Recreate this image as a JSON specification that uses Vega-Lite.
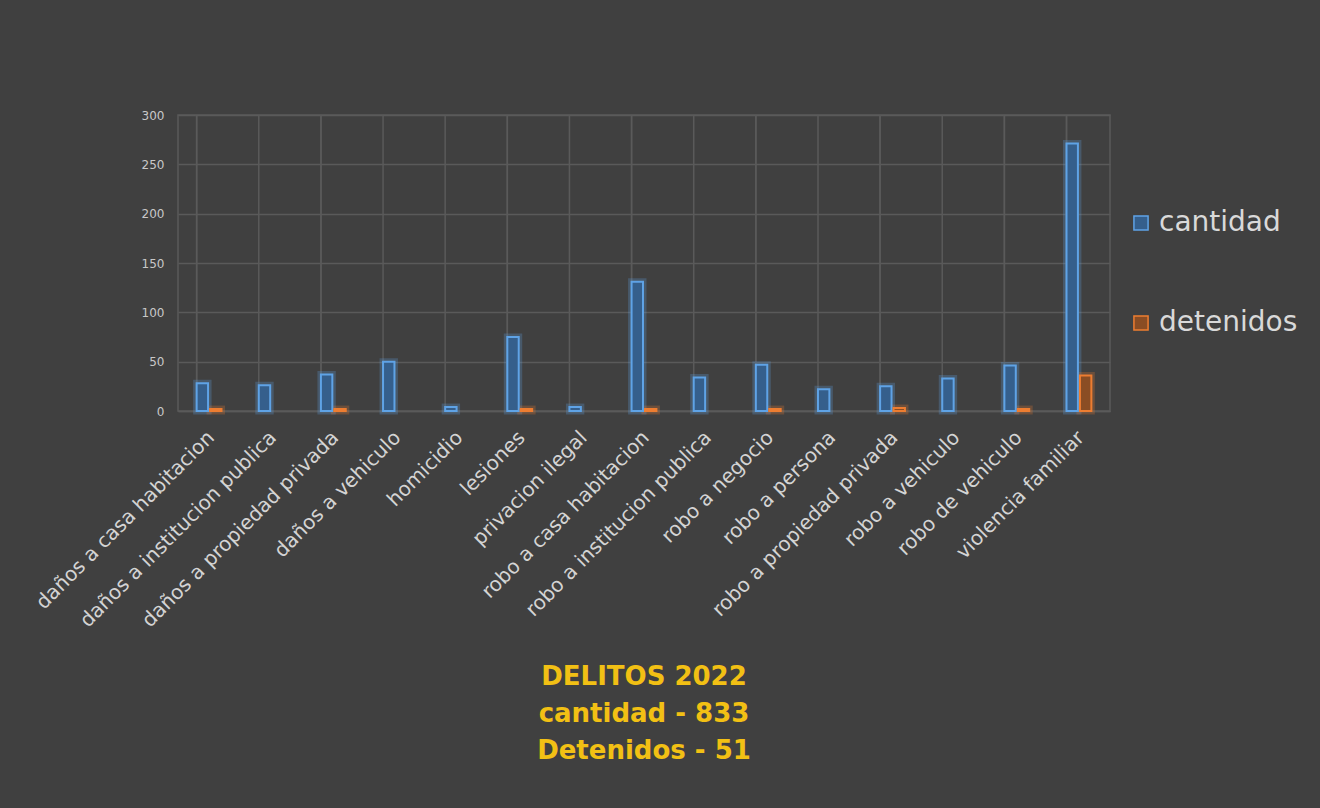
{
  "$schema": "https://vega.github.io/schema/vega-lite/v6.json",
  "autosize": {"type": "none"},
  "width": 932,
  "height": 296,
  "padding": {"left": 178, "top": 115, "right": 210, "bottom": 397},
  "background": "#404040",
  "config": {
    "view": {"stroke": "#5a5a5a", "strokeWidth": 1.5},
    "font": "DejaVu Sans"
  },
  "title": {
    "text": ["DELITOS 2022", "cantidad - 833", "Detenidos - 51"],
    "orient": "bottom",
    "anchor": "middle",
    "color": "#f2c014",
    "font": "DejaVu Sans",
    "fontSize": 26,
    "fontWeight": "bold",
    "lineHeight": 37,
    "offset": 33
  },
  "data": {
    "values": [
      {"delito": "daños a casa habitacion", "serie": "cantidad", "valor": 28},
      {"delito": "daños a casa habitacion", "serie": "detenidos", "valor": 2},
      {"delito": "daños a institucion publica", "serie": "cantidad", "valor": 26},
      {"delito": "daños a propiedad privada", "serie": "cantidad", "valor": 37},
      {"delito": "daños a propiedad privada", "serie": "detenidos", "valor": 2},
      {"delito": "daños a vehiculo", "serie": "cantidad", "valor": 50},
      {"delito": "homicidio", "serie": "cantidad", "valor": 4},
      {"delito": "lesiones", "serie": "cantidad", "valor": 75},
      {"delito": "lesiones", "serie": "detenidos", "valor": 2},
      {"delito": "privacion ilegal", "serie": "cantidad", "valor": 4},
      {"delito": "robo a casa habitacion", "serie": "cantidad", "valor": 131},
      {"delito": "robo a casa habitacion", "serie": "detenidos", "valor": 2},
      {"delito": "robo a institucion publica", "serie": "cantidad", "valor": 34},
      {"delito": "robo a negocio", "serie": "cantidad", "valor": 47},
      {"delito": "robo a negocio", "serie": "detenidos", "valor": 2},
      {"delito": "robo a persona", "serie": "cantidad", "valor": 22},
      {"delito": "robo a propiedad privada", "serie": "cantidad", "valor": 25},
      {"delito": "robo a propiedad privada", "serie": "detenidos", "valor": 3},
      {"delito": "robo a vehiculo", "serie": "cantidad", "valor": 33},
      {"delito": "robo de vehiculo", "serie": "cantidad", "valor": 46},
      {"delito": "robo de vehiculo", "serie": "detenidos", "valor": 2},
      {"delito": "violencia familiar", "serie": "cantidad", "valor": 271},
      {"delito": "violencia familiar", "serie": "detenidos", "valor": 36}
    ]
  },
  "encoding": {
    "x": {
      "field": "delito",
      "type": "nominal",
      "sort": null,
      "scale": {"paddingInner": 0.6, "paddingOuter": 0.3},
      "axis": {
        "title": null,
        "labelAngle": -45,
        "labelFontSize": 20,
        "labelColor": "#d4d4d4",
        "labelFont": "DejaVu Sans",
        "labelPadding": 16,
        "labelOffset": -5,
        "ticks": false,
        "domainColor": "#5a5a5a",
        "domainWidth": 1.5,
        "grid": false,
        "labelLimit": 400
      }
    }
  },
  "layer": [
    {
      "mark": {"type": "rule", "color": "#5a5a5a", "strokeWidth": 1.5},
      "encoding": {
        "x": {"field": "delito", "type": "nominal", "sort": null, "bandPosition": 0}
      }
    },
    {
      "mark": {"type": "bar", "fill": "transparent", "strokeWidth": 7, "strokeOpacity": 0.25},
      "encoding": {
        "xOffset": {"field": "serie", "type": "nominal", "scale": {"domain": ["cantidad", "detenidos"], "paddingInner": 0.15}},
        "y": {
          "field": "valor",
          "type": "quantitative",
          "scale": {"domain": [0, 300]},
          "axis": {
            "title": null,
            "values": [0, 50, 100, 150, 200, 250, 300],
            "labelFontSize": 12,
            "labelColor": "#c8c8c8",
            "labelPadding": 14,
            "ticks": false,
            "domain": false,
            "gridColor": "#5a5a5a",
            "gridWidth": 1.5
          }
        },
        "stroke": {
          "field": "serie",
          "type": "nominal",
          "scale": {"domain": ["cantidad", "detenidos"], "range": ["#5fa3e6", "#ed7d31"]},
          "legend": {
            "title": null,
            "orient": "none",
            "legendX": 949,
            "legendY": 94,
            "symbolType": "square",
            "symbolSize": 200,
            "symbolStrokeWidth": 1.5,
            "labelFontSize": 28,
            "labelColor": "#d9d9d9",
            "labelFont": "DejaVu Sans",
            "rowPadding": 72,
            "labelOffset": 4,
            "encode": {"symbols": {"update": {"fill": {"value": "#3a3f48"}, "strokeOpacity": {"value": 0.8}}}}
          }
        }
      }
    },
    {
      "mark": {"type": "bar", "strokeWidth": 2},
      "encoding": {
        "xOffset": {"field": "serie", "type": "nominal"},
        "y": {"field": "valor", "type": "quantitative"},
        "stroke": {"field": "serie", "type": "nominal"},
        "fill": {
          "field": "serie",
          "type": "nominal",
          "scale": {"domain": ["cantidad", "detenidos"], "range": ["#355f8c", "#8a4d24"]},
          "legend": null
        }
      }
    }
  ]
}
